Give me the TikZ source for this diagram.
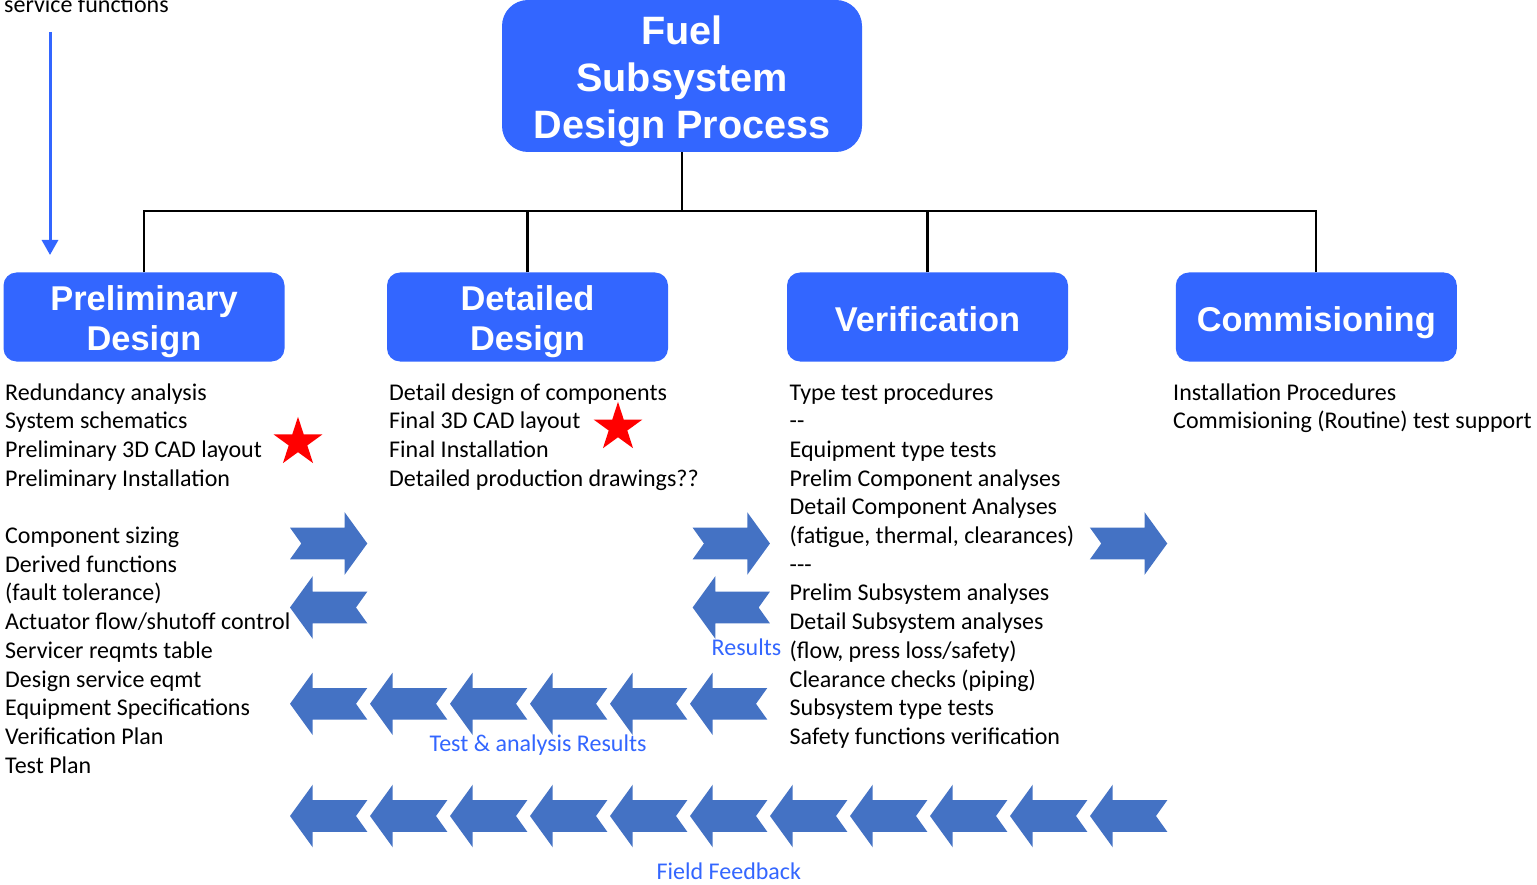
\documentclass[tikz,border=0pt]{standalone}
\usepackage{fontspec}
\setmainfont{Carlito}
\newfontfamily\arialfont{Liberation Sans}
\usetikzlibrary{arrows.meta}
\definecolor{boxblue}{HTML}{3366FF}
\definecolor{arrblue}{HTML}{4472C4}
\definecolor{starred}{HTML}{FF0000}
\definecolor{lblblue}{HTML}{3366FF}
\tikzset{
  leftarrow/.pic={\fill[arrblue] (-38.65,0) -- (-15.95,-31.3) -- (-15.95,-15.8) -- (38.65,-15.8) -- (27.35,0) -- (38.65,15.8) -- (-15.95,15.8) -- (-15.95,31.3) -- cycle;},
  rightarrow/.pic={\fill[arrblue] (38.65,0) -- (15.95,-31.3) -- (15.95,-15.8) -- (-38.65,-15.8) -- (-27.35,0) -- (-38.65,15.8) -- (15.95,15.8) -- (15.95,31.3) -- cycle;},
  redstar/.pic={\fill[starred] (-90:25.6) -- (-54:9.78) -- (-18:25.6) -- (18:9.78) -- (54:25.6) -- (90:9.78) -- (126:25.6) -- (162:9.78) -- (198:25.6) -- (234:9.78) -- cycle;}
}
\begin{document}
\begin{tikzpicture}[x=1pt,y=-1pt,
  body/.style={anchor=base west, inner sep=0pt, font=\fontsize{24}{28.7}\selectfont, text=black},
  lbl/.style={body, text=lblblue},
  topbox/.style={fill=boxblue, rounded corners=26pt, minimum width=360pt, minimum height=152pt, inner sep=0pt, text=white, align=center, font=\arialfont\bfseries\fontsize{39.6}{47.2}\selectfont},
  phase/.style={fill=boxblue, rounded corners=13pt, minimum width=281pt, minimum height=89pt, inner sep=0pt, text=white, align=center, font=\arialfont\bfseries\fontsize{34.4}{40}\selectfont},
  oneline/.style={text height=28.6pt, text depth=0pt},
  tree/.style={draw=black, line width=2.2pt},
  feed/.style={draw=boxblue, line width=3pt, -{Triangle[length=15pt,width=16pt]}}
]
\useasboundingbox (0,0) rectangle (1537,885);

% top box and phases
\node[topbox] (top) at (682,76) {\rule{0pt}{39pt}Fuel\\Subsystem\\Design Process};
\node[phase] (pd) at (144,317) {\rule{0pt}{35pt}Preliminary\\Design};
\node[phase] (dd) at (527.5,317) {\rule{0pt}{35pt}Detailed\\Design};
\node[phase, oneline] (vf) at (927.5,317) {Verification};
\node[phase, oneline] (cm) at (1316.3,317) {Commisioning};

% tree connectors
\coordinate (j) at (682,211);
\draw[tree] (top.south) -- (j);
\draw[tree] (pd.north) -- (pd.north |- j) -- (cm.north |- j) -- (cm.north);
\draw[tree] (dd.north) -- (dd.north |- j);
\draw[tree] (vf.north) -- (vf.north |- j);

% service functions
\node[body] (sf) at (4,12.5) {service functions};
\coordinate (sfa) at (50,32);
\coordinate (sfb) at (50,255);
\draw[feed] (sfa) -- (sfb);

% column texts
\foreach \t [count=\i from 0] in {Redundancy analysis, System schematics, Preliminary 3D CAD layout, Preliminary Installation}
  \node[body] (pa\i) at (5,{400+28.7*\i}) {\t};
\foreach \t [count=\i from 5] in {Component sizing, Derived functions, (fault tolerance), Actuator flow/shutoff control, Servicer reqmts table, Design service eqmt, Equipment Specifications, Verification Plan, Test Plan}
  \node[body] (pb\i) at (5,{400+28.7*\i}) {\t};
\foreach \t [count=\i from 0] in {Detail design of components, Final 3D CAD layout, Final Installation, Detailed production drawings??}
  \node[body] (d\i) at (389,{400+28.7*\i}) {\t};
\foreach \t [count=\i from 0] in {Type test procedures, -{}-, Equipment type tests, Prelim Component analyses, Detail Component Analyses, {(fatigue, thermal, clearances)}, -{}-{}-, Prelim Subsystem analyses, Detail Subsystem analyses, {(flow, press loss/safety)}, Clearance checks (piping), Subsystem type tests, Safety functions verification}
  \node[body] (v\i) at (789.5,{400+28.7*\i}) {\t};
\foreach \t [count=\i from 0] in {Installation Procedures, Commisioning (Routine) test support}
  \node[body] (c\i) at (1173,{400+28.7*\i}) {\t};

% stars
\pic at (298,442.4) {redstar};
\pic at (618,427.5) {redstar};

% block arrows
\pic at (328.65,543.5) {rightarrow};
\pic at (731.3,543.5) {rightarrow};
\pic at (1128.6,543.5) {rightarrow};
\pic at (328.65,607.5) {leftarrow};
\pic at (731.3,607.5) {leftarrow};
\foreach \k in {0,...,5} \pic at ({328.65+80*\k},703.8) {leftarrow};
\foreach \k in {0,...,10} \pic at ({328.65+80*\k},816) {leftarrow};

% labels
\node[lbl] (res) at (711.5,655.8) {Results};
\node[lbl] (tar) at (429.5,751.5) {Test \& analysis Results};
\node[lbl] (ff) at (656.5,879.8) {Field Feedback};
\end{tikzpicture}
\end{document}
